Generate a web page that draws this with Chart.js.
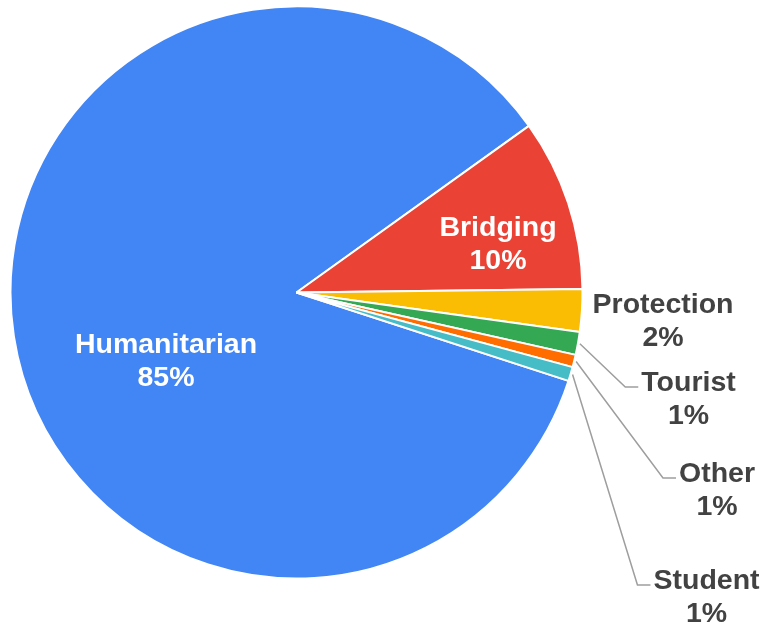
<!DOCTYPE html>
<html>
<head>
<meta charset="utf-8">
<script src="https://cdn.jsdelivr.net/npm/chart.js@4/dist/chart.umd.min.js"></script>
<style>
  html, body { margin: 0; padding: 0; background: #ffffff; }
  #wrap { position: relative; width: 764px; height: 623px; }
</style>
</head>
<body>
<div id="wrap"><canvas id="c"></canvas></div>
<script>
// ---- data ----
const categories = ["Humanitarian", "Bridging", "Protection", "Tourist", "Other", "Student"];
const shares = [85.1, 9.7, 2.4, 1.3, 0.7, 0.8];
const sliceColors = ["#4285F4", "#EA4335", "#FBBC04", "#34A853", "#FF6D01", "#46BDC6"];

// ---- label layout (pixel offsets of the first text line from the pie centre) ----
const labelInside = [true, true, false, false, false, false];
const labelOffsetX = [-130.5, 201.5, 366.5, 392, 420.5, 410];
const labelOffsetY = [60.5, -56.5, 20.5, 98.5, 189.5, 296.5];
const hasLeader = [false, false, false, true, true, true];

const FONT = "bold 28.5px 'Liberation Sans', Arial, sans-serif";
const LINE_GAP = 33;

const labelPlugin = {
  id: 'sliceLabels',
  afterDatasetsDraw(chart) {
    const ctx = chart.ctx;
    const meta = chart.getDatasetMeta(0);
    const data = chart.data.datasets[0].data;
    const total = data.reduce((a, b) => a + b, 0);
    ctx.save();
    ctx.font = FONT;
    ctx.textBaseline = 'alphabetic';
    ctx.textAlign = 'center';
    meta.data.forEach((arc, i) => {
      const p = arc.getProps(['x', 'y', 'startAngle', 'endAngle', 'outerRadius'], true);
      const name = chart.data.labels[i];
      const pct = Math.round(data[i] / total * 100) + '%';
      const cx = p.x + labelOffsetX[i];
      const by = p.y + labelOffsetY[i];
      if (hasLeader[i]) {
        const mid = (p.startAngle + p.endAngle) / 2;
        const r0 = p.outerRadius + 2;
        const sx = p.x + Math.cos(mid) * r0;
        const sy = p.y + Math.sin(mid) * r0;
        const w = ctx.measureText(name).width;
        const left = cx - w / 2;
        ctx.strokeStyle = '#9E9E9E';
        ctx.lineWidth = 1.5;
        ctx.beginPath();
        ctx.moveTo(sx, sy);
        ctx.lineTo(left - 16, by - 4);
        ctx.lineTo(left - 3, by - 4);
        ctx.stroke();
      }
      ctx.fillStyle = labelInside[i] ? '#FFFFFF' : '#424242';
      ctx.fillText(name, cx, by);
      ctx.fillText(pct, cx, by + LINE_GAP);
    });
    ctx.restore();
  }
};

new Chart(document.getElementById('c'), {
  type: 'pie',
  data: {
    labels: categories,
    datasets: [{
      data: shares,
      backgroundColor: sliceColors,
      borderColor: '#FFFFFF',
      borderWidth: 2
    }]
  },
  options: {
    responsive: true,
    maintainAspectRatio: false,
    animation: false,
    rotation: 108,
    radius: 286,
    layout: { padding: { left: 11, right: 182, top: 7, bottom: 45 } },
    plugins: {
      legend: { display: false },
      tooltip: { enabled: false }
    }
  },
  plugins: [labelPlugin]
});
</script>
</body>
</html>
